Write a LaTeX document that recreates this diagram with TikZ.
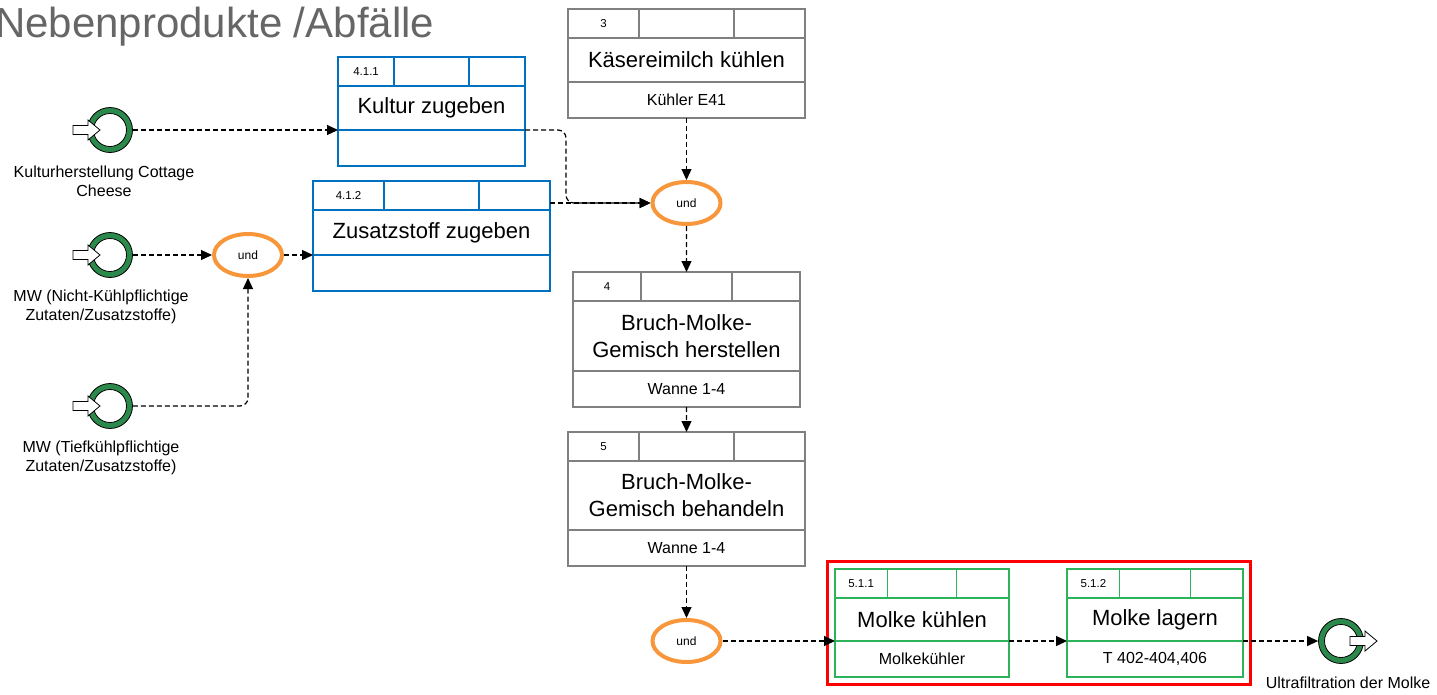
\documentclass[tikz,border=0pt]{standalone}
\usepackage{fontspec}
\setmainfont{Liberation Sans}
\usepackage{xcolor}
\usepackage{tikz}
\usetikzlibrary{arrows.meta,shapes.geometric,fit}

\definecolor{rahmengrau}{HTML}{808080}
\definecolor{kulturblau}{HTML}{0070C0}
\definecolor{molkegruen}{HTML}{2DB45A}
\definecolor{undorange}{HTML}{F7963A}
\definecolor{eventgruen}{HTML}{2B8A4B}
\definecolor{titelgrau}{HTML}{666666}

\tikzset{
  cell/.style={draw,rectangle,line width=1.3pt,inner sep=0pt,outer sep=0pt,align=center},
  nrfont/.style={font=\fontsize{11.5}{13}\selectfont},
  titelfont/.style={font=\fontsize{22}{27}\selectfont},
  subfont/.style={font=\fontsize{16}{19}\selectfont},
  und/.style={ellipse,draw=undorange,line width=4pt,minimum width=68pt,minimum height=42pt,
    inner sep=0pt,font=\fontsize{12}{14}\selectfont},
  event/.style={circle,draw=black,line width=0.8pt,fill=eventgruen,minimum size=45pt,inner sep=0pt,
    path picture={\draw[fill=white,line width=0.8pt] (path picture bounding box.center) circle (16.5pt);}},
  pfeil/.style={draw=black,fill=white,line width=0.8pt},
  evlabel/.style={align=center,inner sep=0pt,font=\fontsize{16}{19}\selectfont},
  flow/.style={line width=1.2pt,dash pattern=on 5pt off 3pt,-{Triangle[length=11pt,width=10pt]}},
  markierung/.style={draw=red,line width=3.5pt,inner xsep=7.5pt,inner ysep=7.5pt},
}

% Funktionskasten: Name, x, y, Breite, Hoehe Mitte, Farbe, Nummer, Titel, Ressource
\newcommand{\procbox}[9]{%
  \node[cell,nrfont,draw=#6,minimum width={0.3*#4},minimum height=29,anchor=north west] (#1nr) at (#2,#3) {#7};
  \node[cell,draw=#6,minimum width={0.4*#4},minimum height=29,anchor=north west] (#1c2) at (#1nr.north east) {};
  \node[cell,draw=#6,minimum width={0.3*#4},minimum height=29,anchor=north west] (#1c3) at (#1c2.north east) {};
  \node[cell,titelfont,draw=#6,minimum width=#4,minimum height=#5,anchor=north west] (#1mid) at (#1nr.south west) {#8};
  \node[cell,subfont,draw=#6,minimum width=#4,minimum height=36,anchor=north west] (#1sub) at (#1mid.south west) {#9};
}
\newcommand{\startpfeil}[1]{\draw[pfeil,shift={(#1.center)}] (-37,-4.5) -- (-22,-4.5) -- (-22,-10) -- (-10,0) -- (-22,10) -- (-22,4.5) -- (-37,4.5) -- cycle;}
\newcommand{\zielpfeil}[1]{\draw[pfeil,shift={(#1.center)}] (9,-4.5) -- (24,-4.5) -- (24,-10) -- (36,0) -- (24,10) -- (24,4.5) -- (9,4.5) -- cycle;}

\begin{document}
\begin{tikzpicture}[x=1pt,y=-1pt]
    \useasboundingbox (0,0) rectangle (1437,694);

    \node[anchor=base west,inner sep=0pt,text=titelgrau,font=\fontsize{42}{48}\selectfont] (titel) at (-5,37) {Nebenprodukte /Abfälle};

    % Funktionen
    \procbox{kaese}{568}{9}{237}{44}{rahmengrau}{3}{Käsereimilch kühlen}{Kühler E41}
    \procbox{kultur}{338}{57}{187}{44}{kulturblau}{4.1.1}{Kultur zugeben}{}
    \procbox{zusatz}{313}{181}{237}{45}{kulturblau}{4.1.2}{Zusatzstoff zugeben}{}
    \procbox{bruch}{573}{272}{227}{70}{rahmengrau}{4}{Bruch-Molke-\\Gemisch herstellen}{Wanne 1-4}
    \procbox{behandeln}{568}{432}{237}{69}{rahmengrau}{5}{Bruch-Molke-\\Gemisch behandeln}{Wanne 1-4}
    \procbox{mkuehl}{835}{569}{174}{43}{molkegruen}{5.1.1}{Molke kühlen}{Molkekühler}
    \procbox{mlager}{1067}{569}{176}{43}{molkegruen}{5.1.2}{Molke lagern\vphantom{ü}}{T 402-404,406}

    \node[markierung,fit=(mkuehlnr)(mlagersub)] (auswahl) {};

    % Ereignisse
    \node[event] (ev1) at (110,130) {};
    \startpfeil{ev1}
    \node[evlabel,anchor=north] (ev1text) at (104,166) {Kulturherstellung Cottage\\Cheese};
    \node[event] (ev2) at (110,255) {};
    \startpfeil{ev2}
    \node[evlabel,anchor=north] (ev2text) at (101,290) {MW (Nicht-Kühlpflichtige\\Zutaten/Zusatzstoffe)};
    \node[event] (ev3) at (110,406) {};
    \startpfeil{ev3}
    \node[evlabel,anchor=north] (ev3text) at (101,441) {MW (Tiefkühlpflichtige\\Zutaten/Zusatzstoffe)};
    \node[event] (ev4) at (1341,641) {};
    \zielpfeil{ev4}
    \node[evlabel,anchor=north] (ev4text) at (1348,677) {Ultrafiltration der Molke};

    % Verknuepfungen
    \node[und] (und1) at (248,255) {und};
    \node[und] (und2) at (686.5,203) {und};
    \node[und] (und3) at (686.5,641) {und};
    \coordinate (knick) at (566,203);

    \draw[flow] (ev1) -- (kultursub.north west);
    \draw[flow] (ev2) -- (und1);
    \draw[flow,rounded corners=8pt] (ev3) -| (und1);
    \draw[flow] (und1) -- (zusatzsub.north west);
    \draw[flow,rounded corners=8pt] (kultursub.north east) -| (knick) -- (und2);
    \draw[flow] (zusatzc3.east |- und2) -- (und2);
    \draw[flow] (kaesesub) -- (und2);
    \draw[flow] (und2) -- (bruchc2);
    \draw[flow] (bruchsub) -- (behandelnc2);
    \draw[flow] (behandelnsub) -- (und3);
    \draw[flow] (und3) -- (mkuehlsub.north west);
    \draw[flow] (mkuehlsub.north east) -- (mlagersub.north west);
    \draw[flow] (mlagersub.north east) -- (ev4);
\end{tikzpicture}
\end{document}
